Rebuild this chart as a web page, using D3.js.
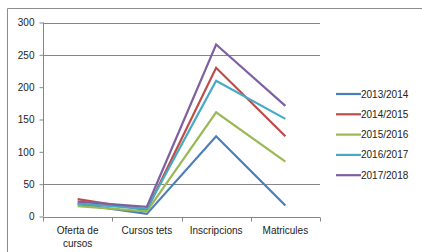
<!DOCTYPE html>
<html>
<head>
<meta charset="utf-8">
<script src="https://cdn.jsdelivr.net/npm/d3@7"></script>
<style>
  body { margin: 0; background: #fff; }
  text { font-family: "Liberation Sans", Arial, sans-serif; fill: #222; }
</style>
</head>
<body>
<div id="chart"></div>
<script>
const categories = [['Oferta de', 'cursos'], ['Cursos tets'], ['Inscripcions'], ['Matricules']];
const seriesNames = ['2013/2014', '2014/2015', '2015/2016', '2016/2017', '2017/2018'];
const seriesColors = ['#4A7EBB', '#BE4B48', '#98B954', '#46AAC5', '#7D60A0'];
const values2013 = [19, 4, 124, 17];
const values2014 = [27, 10, 230, 124];
const values2015 = [16, 8, 161, 85];
const values2016 = [20, 12, 210, 151];
const values2017 = [23, 15, 266, 171];
const yTicks = [0, 50, 100, 150, 200, 250, 300];
const gridTicks = [50, 250, 300]; // only these show in the picture

const width = 422;
const height = 252;
const allValues = [values2013, values2014, values2015, values2016, values2017];

const svg = d3.select('#chart')
    .append('svg')
    .attr('width', width)
    .attr('height', height);

// chart frame (top and left edges visible)
svg.append('path')
    .attr('d', 'M7.5,252 V8.5 H422')
    .attr('fill', 'none')
    .attr('stroke', '#8c8c8c')
    .attr('stroke-width', 1);

const x = d3.scaleBand()
    .domain(d3.range(categories.length))
    .range([43, 320]);

const y = d3.scaleLinear()
    .domain([0, 300])
    .range([216.5, 22.5]);

// gridlines
svg.append('g')
    .selectAll('line')
    .data(gridTicks)
    .enter()
    .append('line')
    .attr('x1', 43)
    .attr('x2', 320)
    .attr('y1', d => Math.round(y(d)) + 0.5)
    .attr('y2', d => Math.round(y(d)) + 0.5)
    .attr('stroke', '#868686');

// y axis
const yAxis = svg.append('g')
    .attr('transform', 'translate(43.5,0)')
    .call(d3.axisLeft(y).tickValues(yTicks).tickSize(4).tickPadding(5));
yAxis.select('.domain').attr('stroke', '#868686').attr('d', `M0,${y(300)}V${y(0)}`);
yAxis.selectAll('.tick line').attr('stroke', '#868686');
yAxis.selectAll('.tick text')
    .style('font-size', '10px')
    .style('fill', '#222');

// x axis
const xAxis = svg.append('g')
    .attr('transform', `translate(0,${Math.round(y(0)) + 0.5})`);
xAxis.append('line')
    .attr('x1', 43).attr('x2', 320)
    .attr('stroke', '#868686');
xAxis.selectAll('.xt')
    .data(d3.range(categories.length + 1))
    .enter()
    .append('line')
    .attr('x1', d => Math.round(43 + d * x.step()) + 0.5)
    .attr('x2', d => Math.round(43 + d * x.step()) + 0.5)
    .attr('y1', 0)
    .attr('y2', 4)
    .attr('stroke', '#868686');

svg.append('g')
    .selectAll('text')
    .data(categories)
    .enter()
    .append('text')
    .attr('x', (d, i) => x(i) + x.bandwidth() / 2)
    .attr('y', 234)
    .attr('text-anchor', 'middle')
    .style('font-size', '10px')
    .each(function(d) {
        d3.select(this).selectAll('tspan')
            .data(d)
            .enter()
            .append('tspan')
            .attr('x', d3.select(this).attr('x'))
            .attr('dy', (t, j) => j === 0 ? 0 : 13)
            .text(t => t);
    });

// lines
const line = d3.line()
    .x((d, i) => x(i) + x.bandwidth() / 2)
    .y(d => y(d));

svg.append('g')
    .selectAll('path')
    .data(allValues)
    .enter()
    .append('path')
    .attr('d', line)
    .attr('fill', 'none')
    .attr('stroke', (d, i) => seriesColors[i])
    .attr('stroke-width', 2.2)
    .attr('stroke-linejoin', 'miter');

// legend
const legend = svg.append('g')
    .attr('transform', 'translate(336,94)');

const legendItems = legend.selectAll('g')
    .data(seriesNames)
    .enter()
    .append('g')
    .attr('transform', (d, i) => `translate(0,${i * 20.3})`);

legendItems.append('line')
    .attr('x1', 0).attr('x2', 25)
    .attr('stroke', (d, i) => seriesColors[i])
    .attr('stroke-width', 2.2);

legendItems.append('text')
    .attr('x', 25)
    .attr('dy', '0.35em')
    .style('font-size', '10px')
    .text(d => d);
</script>
</body>
</html>
